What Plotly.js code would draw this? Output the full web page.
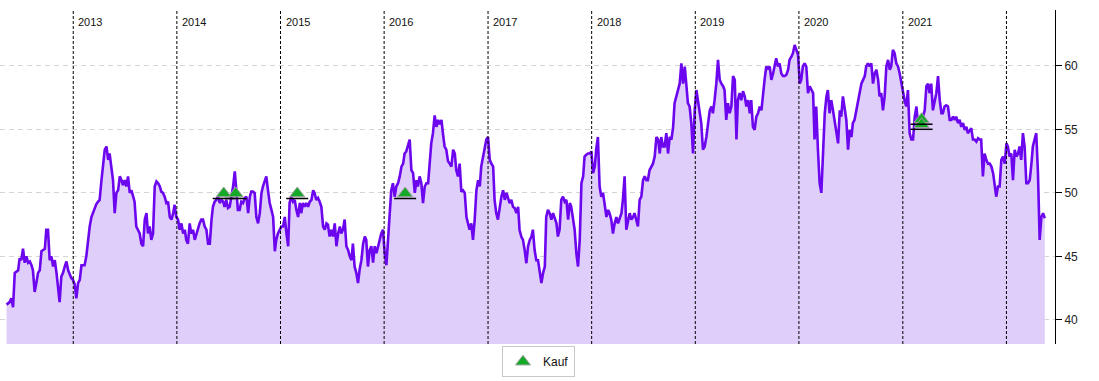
<!DOCTYPE html>
<html>
<head>
<meta charset="utf-8">
<script src="https://cdn.plot.ly/plotly-3.0.1.min.js"></script>
<style>
html,body{margin:0;padding:0;background:#fff;}
#chart{width:1099px;height:381px;}
</style>
</head>
<body>
<div id="chart"></div>
<script>
// Price series: sampled every ~5.87 days starting 2012-05-11
const seriesStart = '2012-05-11';
const seriesStepDays = 5.87;
const prices = [
41.2,41.3,41.4,41.7,41.0,43.7,43.8,43.9,44.85,44.7,45.6,44.5,45.0,44.5,44.6,44.3,43.9,42.2,42.9,43.7,
43.9,45.4,45.5,45.6,47.1,47.1,44.7,45.0,44.2,44.7,43.7,42.5,41.4,43.4,43.7,44.2,44.6,43.9,43.55,43.3,
43.15,42.8,41.7,42.9,43.15,44.3,44.3,44.3,45.0,46.3,47.35,48.1,48.5,48.9,49.1,49.3,49.45,50.9,52.1,53.4,
53.65,52.6,53.1,51.8,51.0,48.4,50.0,50.2,51.3,51.0,50.6,51.0,50.5,51.3,50.0,50.2,49.7,49.3,47.35,47.1,
46.8,46.0,45.8,47.9,48.4,46.8,47.35,46.3,46.8,50.5,50.9,50.76,50.5,50.1,50.0,49.7,49.2,49.3,48.1,47.9,
48.4,49.06,48.1,47.9,47.1,47.6,46.8,47.1,46.3,46.0,47.6,46.8,47.1,46.3,46.8,47.1,47.6,47.9,47.9,47.35,
47.1,46.0,46.0,47.9,48.9,49.3,49.45,49.7,49.2,49.45,49.3,48.9,49.45,48.8,48.9,49.7,50.5,51.7,50.2,48.66,
48.66,49.3,49.2,49.6,49.7,48.4,49.7,50.1,50.1,50.0,48.1,47.6,48.4,50.0,50.5,51.0,51.3,50.2,49.2,48.66,
48.1,45.4,46.3,46.8,47.1,47.35,47.35,48.1,46.8,45.8,49.2,49.7,49.3,49.45,48.66,48.1,49.2,48.4,49.2,48.9,
49.2,48.9,49.3,49.45,50.2,50.0,49.45,49.6,49.3,48.9,47.35,47.1,47.6,47.5,46.56,47.1,46.56,47.6,45.8,46.8,
47.35,46.8,47.1,47.9,45.8,45.5,45.0,44.7,46.0,44.2,43.7,42.9,
44.0,44.7,46.0,46.56,46.3,44.2,45.5,45.8,44.5,45.8,45.25,45.8,46.3,46.8,47.1,45.25,44.3,46.3,48.1,50.2,
50.76,49.7,50.5,50.76,51.3,52.07,52.3,53.1,53.26,53.65,54.2,51.8,51.55,50.0,51.0,50.5,51.3,50.76,49.2,50.5,
50.76,50.76,52.3,53.9,54.7,56.1,55.2,55.75,55.4,55.75,54.7,53.65,53.4,52.5,52.3,52.07,53.4,53.1,51.8,51.3,
52.3,50.1,50.2,50.0,48.1,47.6,47.1,47.6,46.3,47.9,50.2,51.0,50.5,52.07,52.86,53.4,54.2,54.4,52.6,52.3,
52.07,49.45,48.4,47.9,48.9,49.7,50.2,49.45,50.0,49.7,49.2,49.45,48.9,48.8,48.4,48.9,47.1,46.56,46.3,45.5,
44.46,45.8,46.3,46.56,47.1,45.5,44.7,44.7,43.7,42.9,43.7,44.2,48.1,48.66,48.4,47.9,48.4,47.9,47.6,46.56,
47.1,49.45,49.7,49.3,49.45,47.9,49.2,48.9,47.9,47.1,45.25,44.2,46.3,50.76,51.3,52.86,53.0,53.1,53.1,53.26,
51.55,52.07,53.4,54.4,50.5,49.7,50.0,48.9,48.1,48.66,48.4,47.9,46.8,47.6,48.1,47.6,48.1,48.4,49.45,51.3,
47.1,47.9,48.4,47.9,48.1,48.4,47.9,47.35,49.45,49.7,51.0,51.3,51.0,51.0,51.8,52.07,52.3,52.86,54.4,54.2,
53.1,54.4,53.65,53.65,54.7,53.1,54.4,54.2,55.2,57.06,57.6,58.1,58.6,60.2,58.6,59.95,58.4,57.06,56.8,55.5,
53.1,56.5,58.1,57.3,56.5,55.5,53.4,53.65,54.4,55.75,56.5,56.8,56.27,57.3,58.6,60.47,
58.9,58.6,58.4,58.1,55.75,57.06,56.27,56.8,59.2,58.9,54.2,57.3,57.85,57.3,58.0,57.6,56.8,57.3,56.27,57.3,
55.2,54.96,56.0,56.27,56.8,56.5,57.85,58.9,59.95,59.8,59.95,58.9,59.4,60.2,60.6,59.95,60.2,59.4,59.2,59.2,
59.3,59.7,60.47,60.7,61.0,61.65,61.26,60.87,58.6,58.9,59.95,60.2,59.95,57.85,58.4,58.1,57.85,54.2,56.8,53.4,
50.76,50.0,53.4,56.27,57.6,58.1,56.27,57.3,56.5,55.5,54.7,53.9,56.5,56.0,57.6,56.5,55.75,53.4,54.96,54.4,
55.5,55.75,56.5,57.3,58.1,58.6,58.9,59.2,59.95,60.2,59.95,60.2,58.6,59.4,59.7,58.9,57.6,57.85,56.5,57.6,
59.95,60.47,59.7,59.95,61.26,61.0,60.2,59.95,59.4,58.6,58.1,57.3,56.8,58.1,54.7,54.2,54.2,56.0,56.8,55.5,
55.2,55.5,56.0,56.5,58.4,58.6,57.85,58.6,56.5,57.3,57.85,59.2,57.3,56.27,56.27,56.8,56.9,56.8,55.75,55.75,
56.0,55.75,56.0,55.5,55.75,55.2,55.5,54.96,55.2,54.7,54.96,55.1,54.2,54.2,54.04,54.3,54.2,54.2,51.3,53.1,
52.6,52.3,52.3,52.07,51.55,50.76,49.7,50.5,50.5,52.6,52.86,52.3,53.9,53.65,52.86,53.1,51.0,53.4,52.86,53.1,
53.65,52.6,54.7,53.65,50.76,50.76,51.0,52.3,53.65,54.2,54.7,51.55,46.3,48.1,48.4,48.0
];

// Buy signals ("Kauf")
const buyDates  = ['2014-06-15','2014-07-27','2015-03-01','2016-03-15','2021-03-08','2021-03-08'];
const buyPrices = [49.95, 49.95, 49.95, 49.95, 55.8, 55.4];

// Year separators and labels
const yearLines  = ['2013','2014','2015','2016','2017','2018','2019','2020','2021','2022'];
const yearLabels = ['2013','2014','2015','2016','2017','2018','2019','2020','2021'];

const xRange = ['2012-04-18', '2022-06-21'];
const yRange = [38.1, 64.4];
const yTicks = [40, 45, 50, 55, 60];

// Build dates for the series
const t0 = Date.parse(seriesStart + 'T00:00:00Z');
const dates = prices.map((_, i) => new Date(t0 + i * seriesStepDays * 86400000).toISOString().slice(0, 10));

const FONT = '"Liberation Sans", Arial, Helvetica, sans-serif';

const traces = [
  {
    x: dates, y: prices, type: 'scatter', mode: 'lines',
    line: {color: 'rgb(108,6,238)', width: 2.6},
    fill: 'tozeroy', fillcolor: 'rgb(223,206,250)',
    showlegend: false, hoverinfo: 'skip'
  },
  {
    x: buyDates, y: buyPrices, type: 'scatter', mode: 'markers', name: 'Kauf',
    marker: {symbol: 'triangle-up', size: 13, color: 'rgb(20,170,40)',
             line: {color: 'rgb(160,160,160)', width: 1}},
    showlegend: true
  }
];

const shapes = yearLines.map(y => ({
  type: 'line', xref: 'x', yref: 'paper',
  x0: y + '-01-01', x1: y + '-01-01', y0: 0, y1: 1,
  line: {color: '#000', width: 1, dash: '3px,2px'}, layer: 'above'
}));
// black base line under each buy marker
buyDates.forEach((d, i) => {
  shapes.push({
    type: 'line', xref: 'x', yref: 'y', xsizemode: 'pixel', ysizemode: 'pixel',
    xanchor: d, yanchor: buyPrices[i], x0: -11, x1: 11, y0: -5, y1: -5,
    line: {color: '#000', width: 1.5}, layer: 'above'
  });
});

const annotations = yearLabels.map(y => ({
  x: y + '-01-01', xref: 'x', y: 0.964, yref: 'paper',
  text: y, showarrow: false, xanchor: 'left', yanchor: 'middle', xshift: 3,
  font: {family: FONT, size: 11, color: '#111'}
}));

const layout = {
  width: 1099, height: 381,
  margin: {l: 0, r: 44, t: 10, b: 37, pad: 0},
  paper_bgcolor: '#fff', plot_bgcolor: '#fff',
  font: {family: FONT, size: 12, color: '#222'},
  xaxis: {
    type: 'date', range: xRange, showgrid: false, zeroline: false,
    showticklabels: false, ticks: '', showline: false, fixedrange: true
  },
  yaxis: {
    side: 'right', range: yRange, tickvals: yTicks, ticktext: yTicks.map(String),
    showgrid: true, gridcolor: 'rgb(212,212,212)', griddash: '5px,4px', gridwidth: 1,
    zeroline: false, showline: true, linecolor: '#000', linewidth: 1,
    ticks: 'outside', ticklen: 6, tickcolor: '#000', tickwidth: 1,
    tickfont: {family: FONT, size: 12, color: '#222'}, fixedrange: true
  },
  shapes: shapes,
  annotations: annotations,
  showlegend: true,
  legend: {
    orientation: 'h', xref: 'container', yref: 'container',
    x: 0.49, xanchor: 'center', y: 0.01, yanchor: 'bottom',
    bordercolor: 'rgb(200,200,200)', borderwidth: 1, bgcolor: '#fff',
    font: {family: FONT, size: 12, color: '#111'}, itemwidth: 30,
    tracegroupgap: 0
  }
};

Plotly.newPlot('chart', traces, layout, {displayModeBar: false, staticPlot: true});
</script>
</body>
</html>
